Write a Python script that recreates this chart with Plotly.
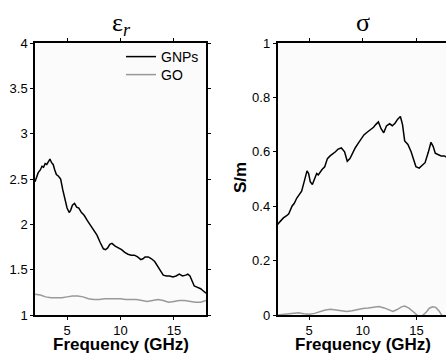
import plotly.graph_objects as go

# ---- data ----
freq_eps_gnp = [2.0, 2.15, 2.3, 2.5, 2.65, 2.8, 2.95, 3.1, 3.25, 3.4, 3.55, 3.7, 3.85, 4.0, 4.2, 4.4, 4.6, 4.8,
                5.0, 5.2, 5.35, 5.5, 5.7, 5.9, 6.1, 6.35, 6.6, 6.9, 7.2, 7.5, 7.8, 8.1, 8.4, 8.6, 8.8, 9.0,
                9.2, 9.5, 9.8, 10.1, 10.4, 10.7, 11.0, 11.3, 11.6, 11.9, 12.1, 12.3, 12.6, 12.9, 13.2, 13.5,
                13.8, 14.0, 14.3, 14.6, 14.9, 15.2, 15.5, 15.8, 16.1, 16.3, 16.5, 16.7, 16.9, 17.1, 17.3,
                17.5, 17.7, 18.0]
eps_gnp = [2.47, 2.52, 2.57, 2.60, 2.64, 2.63, 2.67, 2.66, 2.70, 2.72, 2.68, 2.66, 2.60, 2.55, 2.53, 2.50,
           2.38, 2.26, 2.18, 2.13, 2.16, 2.21, 2.23, 2.19, 2.18, 2.13, 2.10, 2.04, 1.99, 1.94, 1.88, 1.80,
           1.73, 1.72, 1.74, 1.78, 1.79, 1.76, 1.74, 1.72, 1.69, 1.67, 1.66, 1.66, 1.64, 1.61, 1.62, 1.64,
           1.64, 1.62, 1.59, 1.53, 1.47, 1.44, 1.43, 1.43, 1.42, 1.43, 1.45, 1.43, 1.44, 1.45, 1.43, 1.38,
           1.32, 1.31, 1.30, 1.29, 1.27, 1.24]

freq_eps_go = [2, 2.5, 3, 3.5, 4, 4.5, 5, 5.5, 6, 6.5, 7, 7.5, 8, 8.5, 9, 9.5, 10, 10.5, 11, 11.5, 12,
               12.5, 13, 13.5, 14, 14.5, 15, 15.5, 16, 16.5, 17, 17.5, 18]
eps_go = [1.23, 1.22, 1.20, 1.19, 1.19, 1.19, 1.20, 1.21, 1.21, 1.20, 1.18, 1.17, 1.17, 1.18, 1.18, 1.18,
          1.18, 1.17, 1.17, 1.17, 1.16, 1.15, 1.16, 1.17, 1.16, 1.14, 1.15, 1.16, 1.16, 1.15, 1.14, 1.14, 1.16]

freq_sig_gnp = [2.05, 2.3, 2.6, 2.9, 3.1, 3.4, 3.6, 3.85, 4.1, 4.3, 4.5, 4.65, 4.8, 4.95, 5.1, 5.3, 5.5,
                5.7, 5.85, 6.0, 6.2, 6.45, 6.7, 6.95, 7.2, 7.45, 7.7, 8.0, 8.3, 8.55, 8.8, 9.05, 9.3, 9.55,
                9.8, 10.1, 10.4, 10.7, 11.0, 11.2, 11.45, 11.7, 11.95, 12.2, 12.5, 12.75, 13.0, 13.25, 13.5,
                13.7, 13.9, 14.2, 14.5, 14.7, 14.95, 15.25, 15.5, 15.8, 16.1, 16.35, 16.55, 16.75, 17.0,
                17.3, 17.6, 17.8]
sig_gnp = [0.333, 0.345, 0.357, 0.365, 0.372, 0.40, 0.41, 0.43, 0.445, 0.455, 0.485, 0.51, 0.53, 0.52,
           0.49, 0.48, 0.50, 0.52, 0.515, 0.525, 0.535, 0.545, 0.575, 0.585, 0.592, 0.60, 0.61, 0.614,
           0.60, 0.565, 0.575, 0.596, 0.615, 0.63, 0.645, 0.662, 0.672, 0.68, 0.69, 0.70, 0.71, 0.685,
           0.67, 0.695, 0.703, 0.696, 0.705, 0.72, 0.73, 0.70, 0.64, 0.627, 0.60, 0.575, 0.545, 0.54,
           0.55, 0.56, 0.598, 0.635, 0.62, 0.595, 0.59, 0.585, 0.585, 0.58]

freq_sig_go = [2.05, 2.5, 3, 3.5, 4, 4.5, 5, 5.5, 6, 6.5, 7, 7.5, 8, 8.5, 9, 9.5, 10, 10.5, 11, 11.5, 12,
               12.5, 12.8, 13.2, 13.6, 13.9, 14.3, 14.7, 15.1, 15.5, 15.9, 16.2, 16.5, 16.8, 17.1, 17.4, 17.8]
sig_go = [0.0, 0.002, 0.005, 0.008, 0.008, 0.005, 0.003, 0.006, 0.012, 0.018, 0.021, 0.018, 0.014, 0.013,
          0.016, 0.021, 0.024, 0.026, 0.029, 0.031, 0.026, 0.018, 0.013, 0.02, 0.03, 0.033, 0.025, 0.012,
          -0.002, -0.004, 0.01, 0.025, 0.03, 0.028, 0.015, -0.003, -0.005]

eps_ticks = [1, 1.5, 2, 2.5, 3, 3.5, 4]
eps_ticklabels = ["1", "1.5", "2", "2.5", "3", "3.5", "4"]
sig_ticks = [0, 0.2, 0.4, 0.6, 0.8, 1]
sig_ticklabels = ["0", "0.2", "0.4", "0.6", "0.8", "1"]
x_ticks = [5, 10, 15]

W, H = 446, 356
BLACK = "#000000"
GRAY = "#999999"
FONT = "Liberation Sans, Arial, sans-serif"
SERIF = "Liberation Serif, Times New Roman, serif"

fig = go.Figure()
fig.add_trace(go.Scatter(x=freq_eps_gnp, y=eps_gnp, mode="lines", name="GNPs", legend="legend",
                         line=dict(color=BLACK, width=1.5), xaxis="x", yaxis="y"))
fig.add_trace(go.Scatter(x=freq_eps_go, y=eps_go, mode="lines", name="GO", legend="legend2",
                         line=dict(color=GRAY, width=1.5), xaxis="x", yaxis="y"))
fig.add_trace(go.Scatter(x=freq_sig_gnp, y=sig_gnp, mode="lines", name="GNPs", showlegend=False,
                         line=dict(color=BLACK, width=1.5), xaxis="x2", yaxis="y2"))
fig.add_trace(go.Scatter(x=freq_sig_go, y=sig_go, mode="lines", name="GO", showlegend=False,
                         line=dict(color=GRAY, width=1.5), xaxis="x2", yaxis="y2"))

ydom = [1 - 315 / H, 1 - 43 / H]
common_axis = dict(showgrid=False, zeroline=False, showline=True, linecolor=BLACK, linewidth=1.5,
                   ticks="outside", ticklen=3, tickwidth=1, tickcolor=BLACK, automargin=False,
                   tickfont=dict(family=FONT, size=13, color=BLACK))

leg_common = dict(xanchor="left", yanchor="middle", bgcolor="rgba(0,0,0,0)", borderwidth=0,
                  font=dict(family=FONT, size=14, color=BLACK))

fig.update_layout(
    width=W, height=H,
    margin=dict(l=0, r=0, t=0, b=0, pad=0),
    paper_bgcolor="white",
    plot_bgcolor="#fbfbfb",
    font=dict(family=FONT, size=13, color=BLACK),
    xaxis=dict(domain=[35 / W, 206 / W], range=[2, 18], tickvals=x_ticks, mirror="ticks",
               anchor="y", **common_axis),
    yaxis=dict(domain=ydom, range=[1, 4], tickvals=eps_ticks, ticktext=eps_ticklabels,
               mirror="ticks", anchor="x", **common_axis),
    xaxis2=dict(domain=[277.5 / W, 1.0], range=[2.05, 17.75], tickvals=x_ticks, mirror="ticks",
                anchor="y2", **common_axis),
    yaxis2=dict(domain=ydom, range=[0, 1], tickvals=sig_ticks, ticktext=sig_ticklabels,
                anchor="x2", **common_axis),
    showlegend=True,
    legend=dict(x=121 / W, y=1 - 57 / H, **leg_common),
    legend2=dict(x=121 / W, y=1 - 75 / H, **leg_common),
)

annotations = [
    dict(text="<b>Frequency (GHz)</b>", x=120.5 / W, y=1 - 344 / H, xref="paper", yref="paper",
         showarrow=False, font=dict(family=FONT, size=17, color=BLACK), xanchor="center", yanchor="middle"),
    dict(text="<b>Frequency (GHz)</b>", x=363 / W, y=1 - 344 / H, xref="paper", yref="paper",
         showarrow=False, font=dict(family=FONT, size=17, color=BLACK), xanchor="center", yanchor="middle"),
    dict(text="<b>S/m</b>", x=240 / W, y=1 - 178 / H, xref="paper", yref="paper", textangle=-90,
         showarrow=False, font=dict(family=FONT, size=17, color=BLACK), xanchor="center", yanchor="middle"),
    dict(text="ε<sub><i>r</i></sub>", x=121 / W, y=1 - 24 / H, xref="paper", yref="paper",
         showarrow=False, font=dict(family=SERIF, size=26, color=BLACK),
         xanchor="center", yanchor="middle"),
    dict(text="σ", x=363 / W, y=1 - 22 / H, xref="paper", yref="paper",
         showarrow=False, font=dict(family=SERIF, size=26, color=BLACK),
         xanchor="center", yanchor="middle"),
]
fig.update_layout(annotations=annotations)

fig.write_html("out.html")
